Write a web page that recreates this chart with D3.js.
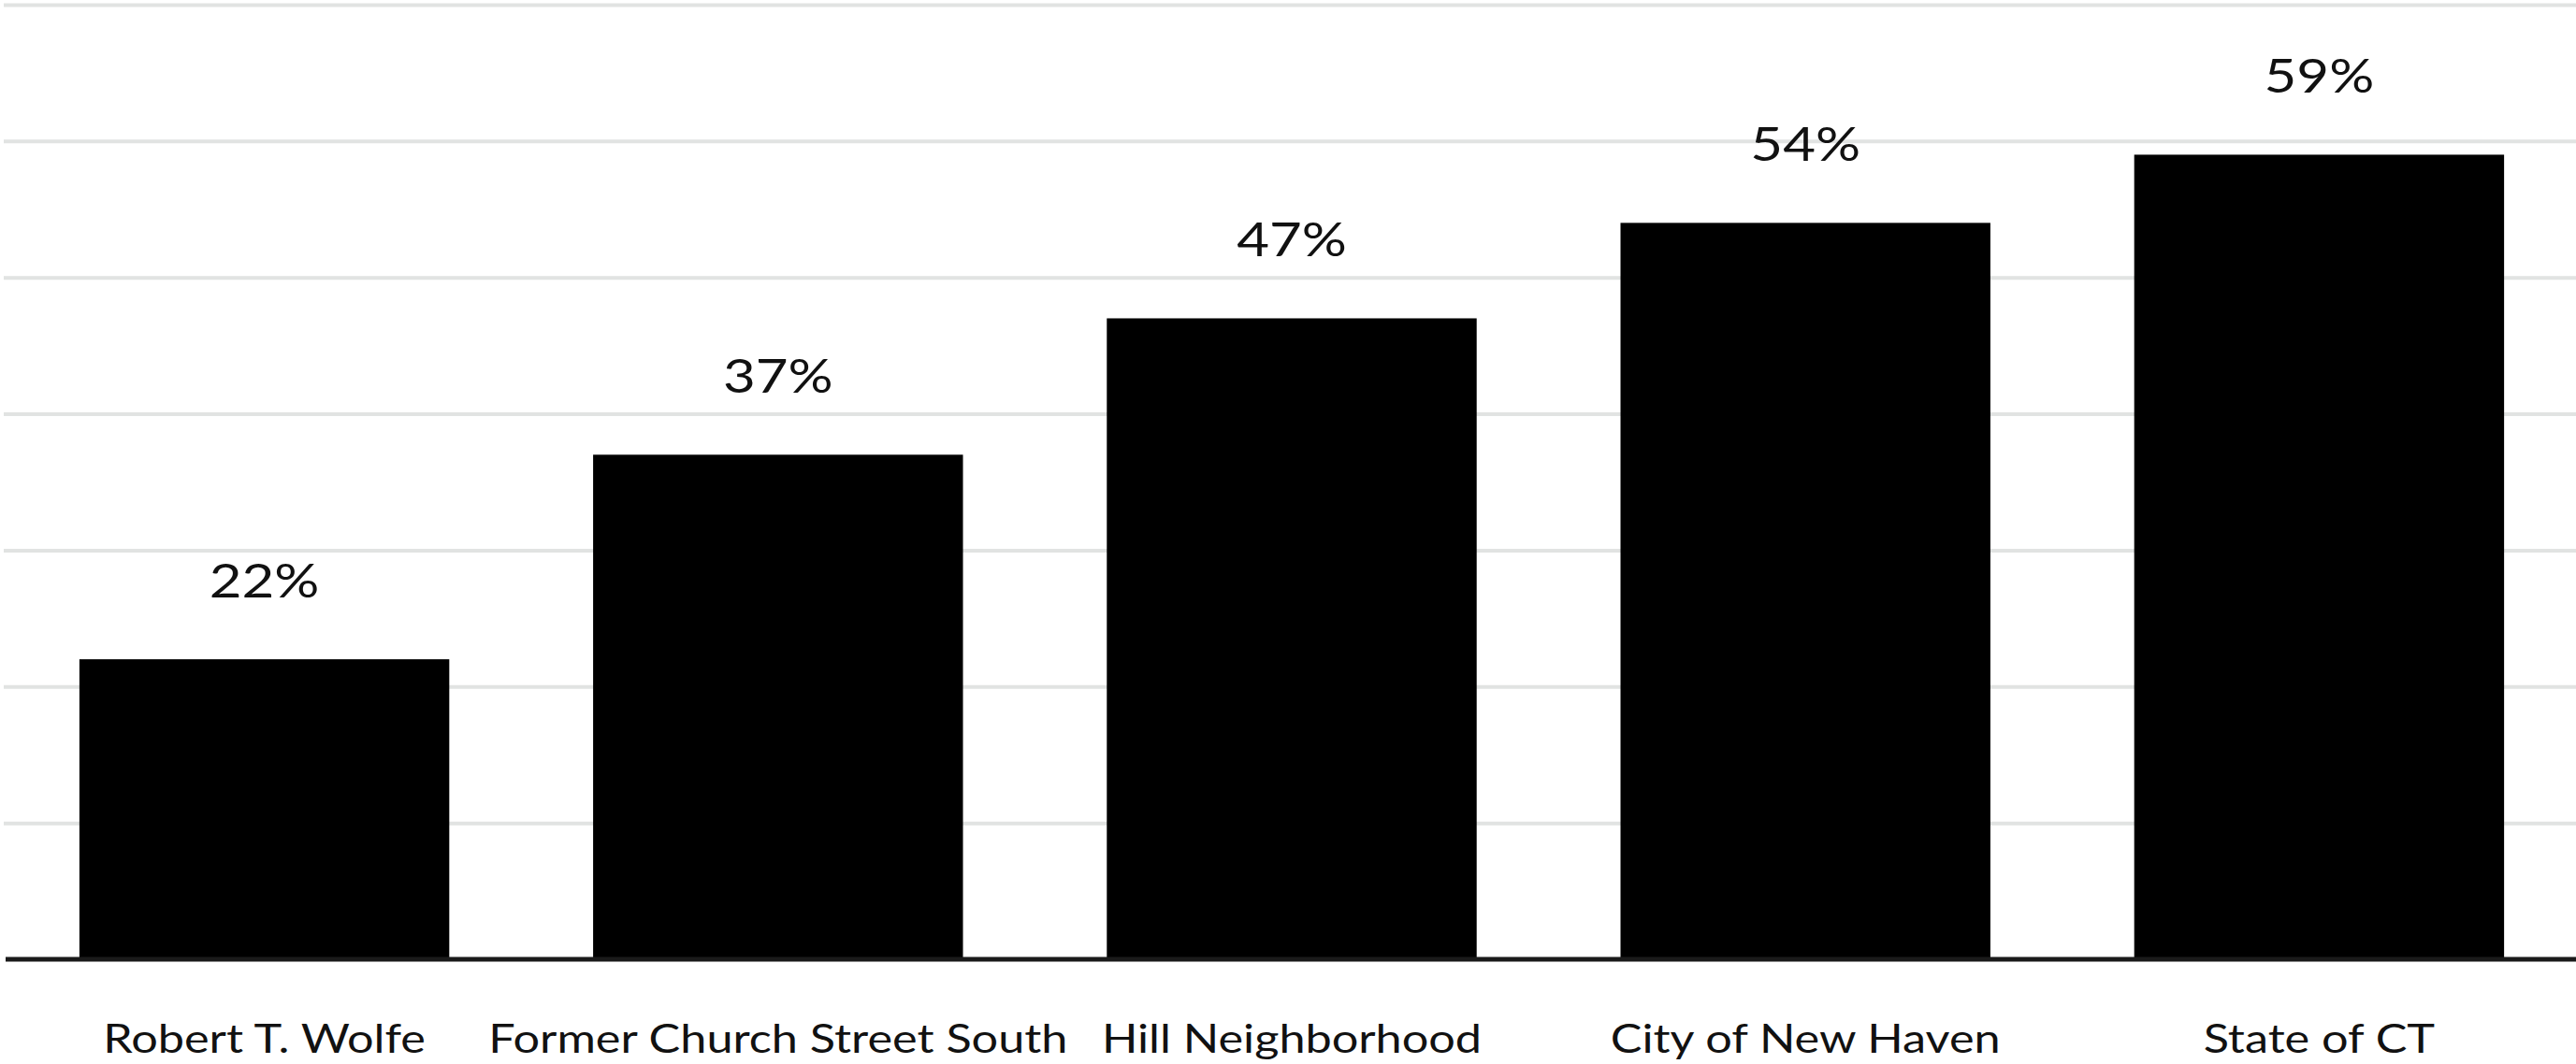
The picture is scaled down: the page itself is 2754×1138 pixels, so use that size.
<!DOCTYPE html>
<html>
<head>
<meta charset="utf-8">
<script src="https://cdn.jsdelivr.net/npm/d3@7"></script>
<style>
  body { margin: 0; background: #fff; }
  svg { display: block; }
</style>
</head>
<body>
<div id="chart"></div>
<script>
// bar chart: share by place
const categories = ["Robert T. Wolfe", "Former Church Street South", "Hill Neighborhood", "City of New Haven", "State of CT"];
const values = [22, 37, 47, 54, 59];
const gridTicks = [10, 20, 30, 40, 50, 60, 70];

const width = 2754;
const height = 1138;
const stretch = 1.2; // the source text is a bit wider than Lato

const svg = d3.select("#chart").append("svg")
  .attr("width", width)
  .attr("height", height)
  .attr("font-family", "Lato, sans-serif");

const x = d3.scaleBand()
  .domain(categories)
  .range([8, width])
  .paddingInner(0.28)
  .paddingOuter(0.14);

const y = d3.scaleLinear()
  .domain([0, 70])
  .range([1026, 5]);

// horizontal grid
svg.append("g")
  .attr("transform", "translate(4,0)")
  .call(d3.axisLeft(y).tickValues(gridTicks).tickSize(-(width - 4)).tickFormat(""))
  .call((g) => g.select(".domain").remove())
  .call((g) => g.selectAll(".tick line")
    .attr("stroke", "#e1e3e2")
    .attr("stroke-width", 4));

svg.append("g")
  .selectAll("rect")
  .data(values)
  .join("rect")
  .attr("x", (d, i) => x(categories[i]))
  .attr("width", x.bandwidth())
  .attr("y", (d) => y(d))
  .attr("height", (d) => y(0) - y(d))
  .attr("fill", "#000");

// baseline
svg.append("line")
  .attr("x1", 6)
  .attr("x2", width)
  .attr("y1", y(0))
  .attr("y2", y(0))
  .attr("stroke", "#1a1a1a")
  .attr("stroke-width", 5);

const cx = (i) => x(categories[i]) + x.bandwidth() / 2;

svg.append("g")
  .selectAll("text")
  .data(values)
  .join("text")
  .attr("transform", (d, i) => `translate(${cx(i)},${y(d) - 66}) scale(${stretch},1)`)
  .attr("text-anchor", "middle")
  .attr("font-size", 50)
  .attr("fill", "#111")
  .text((d) => d + "%");

// category labels under the axis
svg.append("g")
  .selectAll("text")
  .data(categories)
  .join("text")
  .attr("transform", (d, i) => `translate(${cx(i)},1126) scale(${stretch},1)`)
  .attr("text-anchor", "middle")
  .attr("font-size", 42)
  .attr("fill", "#111")
  .text((d) => d);
</script>
</body>
</html>
